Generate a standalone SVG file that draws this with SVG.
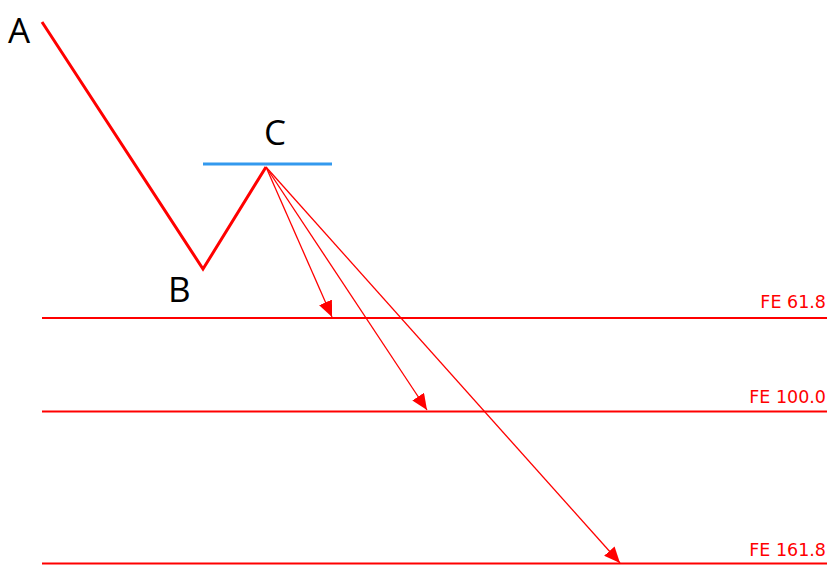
<svg xmlns="http://www.w3.org/2000/svg" width="827" height="565" viewBox="0 0 827 565">
<style>
.lbl{font-family:"Open Sans","Liberation Sans",Arial,sans-serif;font-size:35px;fill:#000}
.fe{font-family:"DejaVu Sans",Verdana,sans-serif;font-size:17.5px;fill:#ff0000;text-anchor:end}
.lvl{stroke:#ff0000;stroke-width:2;fill:none}
.arr{stroke:#ff0000;stroke-width:1.3;fill:none;marker-end:url(#ah)}
</style>
<defs>
<marker id="ah" markerUnits="userSpaceOnUse" markerWidth="18" markerHeight="14" refX="16" refY="7" orient="auto" viewBox="0 0 18 14">
<path d="M0,0 L16,7 L0,14 Z" fill="#ff0000"/>
</marker>
</defs>
<g id="wave">
<polyline points="42,22 203,269 266,167" fill="none" stroke="#ff0000" stroke-width="3"/>
</g>
<g id="c-level">
<line x1="203" y1="164" x2="332" y2="164" stroke="#3399ee" stroke-width="3"/>
</g>
<g id="point-A"><text class="lbl" x="8" y="43">A</text></g>
<g id="point-B"><text class="lbl" x="168" y="302">B</text></g>
<g id="point-C"><text class="lbl" x="264" y="145">C</text></g>
<g id="fe618">
<line class="lvl" x1="42" y1="318" x2="827" y2="318"/>
<text class="fe" x="826" y="308">FE 61.8</text>
</g>
<g id="fe1000">
<line class="lvl" x1="42" y1="411.5" x2="827" y2="411.5"/>
<text class="fe" x="826" y="403">FE 100.0</text>
</g>
<g id="fe1618">
<line class="lvl" x1="42" y1="563.5" x2="827" y2="563.5"/>
<text class="fe" x="826" y="556">FE 161.8</text>
</g>
<g id="connectors">
<line class="arr" x1="266" y1="167" x2="332" y2="317"/>
<line class="arr" x1="266" y1="167" x2="427" y2="410"/>
<line class="arr" x1="266" y1="167" x2="620" y2="563"/>
</g>
</svg>
